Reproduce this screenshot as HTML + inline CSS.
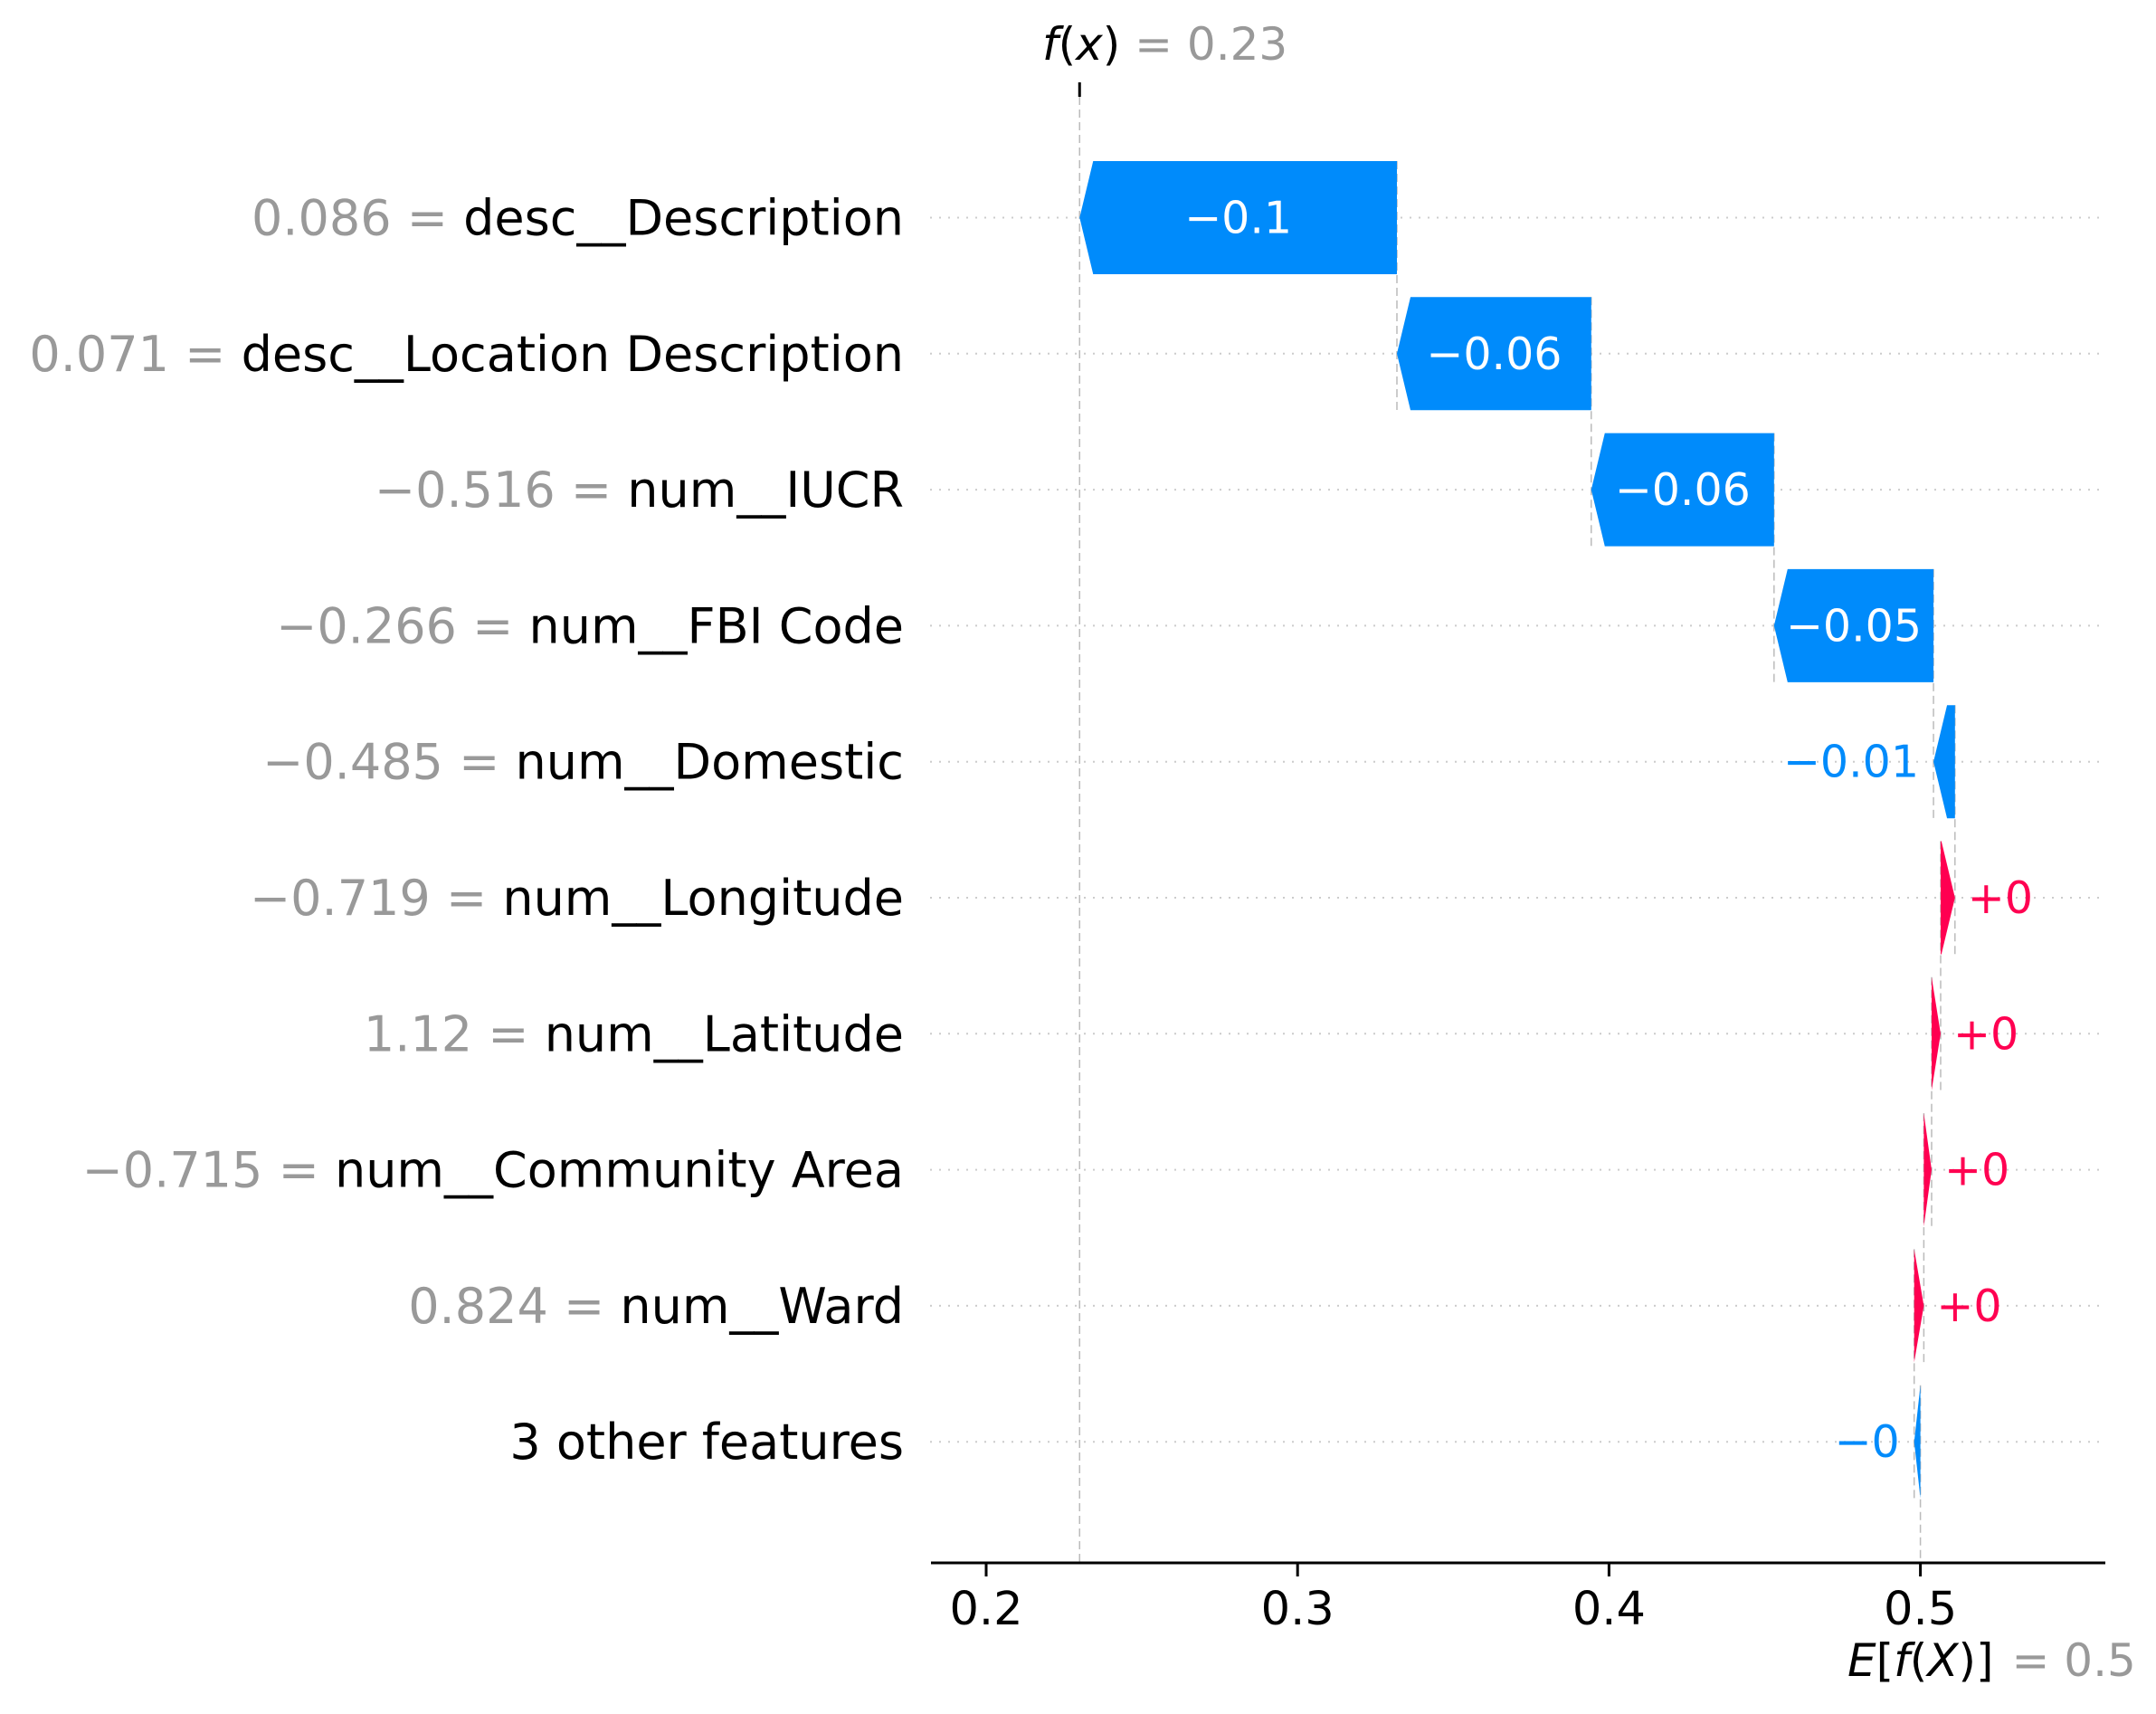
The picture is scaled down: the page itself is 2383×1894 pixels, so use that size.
<!DOCTYPE html>
<html><head><meta charset="utf-8"><style>
html,body{margin:0;padding:0;background:#fff}
svg{display:block;font-family:"DejaVu Sans","Liberation Sans",sans-serif}
</style></head><body>
<svg id="chart" width="2383" height="1894" viewBox="0 0 2383 1894" xmlns="http://www.w3.org/2000/svg">
<g id="grid"></g>
<g id="connectors"></g>
<g id="bars"></g>
<g id="labels"></g>
<g id="axis"></g>
<text x="1152" y="66" font-size="50"><tspan font-style="italic">f</tspan>(<tspan font-style="italic">x</tspan>)<tspan fill="#999"> = 0.23</tspan></text>
<text x="2042" y="1852" font-size="50"><tspan font-style="italic">E</tspan>[<tspan font-style="italic">f</tspan>(<tspan font-style="italic">X</tspan>)]<tspan fill="#999" dx="20">= 0.5</tspan></text>
</svg>
<script>
const featureNames = ["desc__Description","desc__Location Description","num__IUCR","num__FBI Code","num__Domestic","num__Longitude","num__Latitude","num__Community Area","num__Ward","3 other features"];
const featureValues = ["0.086","0.071","\u22120.516","\u22120.266","\u22120.485","\u22120.719","1.12","\u22120.715","0.824",""];
const shapValues = [-0.1019,-0.0624,-0.0587,-0.0512,-0.0069,0.0046,0.0029,0.0025,0.0031,-0.002];
const valueLabels = ["\u22120.1","\u22120.06","\u22120.06","\u22120.05","\u22120.01","+0","+0","+0","+0","\u22120"];
const baseValue = 0.5;
const fxValue = 0.23;
const xTicks = [0.2,0.3,0.4,0.5];

const NS="http://www.w3.org/2000/svg";
const X=v=>1090+(v-0.2)*3442;
const Y=i=>240.5+i*150.3;
const BH=125, HEAD=15;
const blue="#008bfb", red="#ff0051";
function mk(tag,attrs,parent){const e=document.createElementNS(NS,tag);for(const k in attrs)e.setAttribute(k,attrs[k]);parent.appendChild(e);return e;}
const grid=document.getElementById('grid'),conn=document.getElementById('connectors'),bars=document.getElementById('bars'),labels=document.getElementById('labels'),axis=document.getElementById('axis');

const n=featureNames.length;
const starts=new Array(n),ends=new Array(n);
let cur=baseValue;
for(let i=n-1;i>=0;i--){starts[i]=cur;cur+=shapValues[i];ends[i]=cur;}

for(let i=0;i<n;i++){
  const y=Y(i);
  const g=mk('line',{x1:1028,x2:2322,y1:y,y2:y,stroke:'#ccc','stroke-width':2,'stroke-dasharray':'2 8'},grid);
  
  
  if(i<n-1){
    const c=mk('line',{x1:X(starts[i]),x2:X(starts[i]),y1:y-BH/2,y2:Y(i+1)+BH/2,stroke:'#bbb','stroke-width':1.5,'stroke-dasharray':'9 5'},conn);
    
    
  }
  const v=shapValues[i];
  const a=X(Math.min(starts[i],ends[i])), b=X(Math.max(starts[i],ends[i]));
  const w=b-a, hl=Math.min(HEAD,w);
  let pts;
  if(v<0) pts=[[a,y],[a+hl,y-BH/2],[b,y-BH/2],[b,y+BH/2],[a+hl,y+BH/2]];
  else pts=[[b,y],[b-hl,y-BH/2],[a,y-BH/2],[a,y+BH/2],[b-hl,y+BH/2]];
  const p=mk('polygon',{points:pts.map(q=>q.join(',')).join(' '),fill:v<0?blue:red},bars);
  
  
  const t=mk('text',{y:y+17,'font-size':49},bars);
  t.textContent=valueLabels[i];
  
  
  const tw=t.getComputedTextLength();
  if(tw+20<w){t.setAttribute('x',(a+b)/2);t.setAttribute('text-anchor','middle');t.setAttribute('fill','#fff');}
  else if(v<0){t.setAttribute('x',a-16);t.setAttribute('text-anchor','end');t.setAttribute('fill',blue);}
  else{t.setAttribute('x',b+14);t.setAttribute('text-anchor','start');t.setAttribute('fill',red);}
  const l=mk('text',{x:999,y:y+19,'font-size':54,'text-anchor':'end'},labels);
  
  
  if(featureValues[i]!==""){const s=mk('tspan',{fill:'#999'},l);s.textContent=featureValues[i]+" = ";}
  const s2=mk('tspan',{fill:'#000'},l);s2.textContent=featureNames[i];
}
const fl=mk('line',{x1:X(fxValue),x2:X(fxValue),y1:107,y2:1727,stroke:'#bbb','stroke-width':1.5,'stroke-dasharray':'9 5'},conn);


const ft=mk('line',{x1:X(fxValue),x2:X(fxValue),y1:91,y2:107,stroke:'#000','stroke-width':3},axis);


const el=mk('line',{x1:X(baseValue),x2:X(baseValue),y1:Y(n-1)-BH/2,y2:1727,stroke:'#bbb','stroke-width':1.5,'stroke-dasharray':'9 5'},conn);


const al=mk('line',{x1:1029,x2:2327,y1:1727,y2:1727,stroke:'#000','stroke-width':3},axis);


xTicks.forEach(v=>{
  const tk=mk('line',{x1:X(v),x2:X(v),y1:1727,y2:1742,stroke:'#000','stroke-width':3},axis);
  
  
  const tl=mk('text',{x:X(v),y:1795,'font-size':51,'text-anchor':'middle'},axis);
  tl.textContent=String(v);
  
  
});
</script>
</body></html>
